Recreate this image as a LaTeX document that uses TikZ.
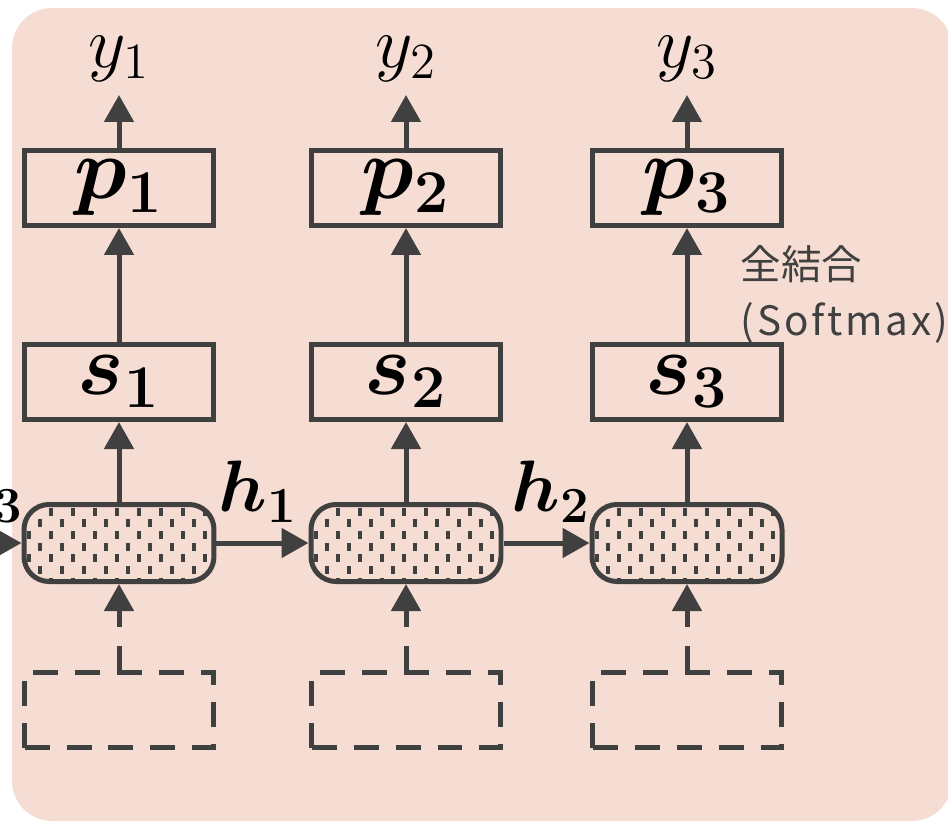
\documentclass[tikz,border=0pt]{standalone}
\usepackage{bm}
\usepackage{fontspec}
\newfontfamily\jpfont{Noto Sans CJK JP}
\usetikzlibrary{arrows.meta}
\definecolor{bgpeach}{RGB}{246,221,211}
\definecolor{ink}{RGB}{64,64,64}
\begin{document}
\begin{tikzpicture}[x=0.1mm, y=-0.1mm,
  box/.style={draw=ink, line width=0.5mm, minimum width=1.89cm, minimum height=0.75cm,
    inner sep=0pt, font=\fontsize{24}{28}\selectfont},
  cell/.style={box, rounded corners=0.25cm, minimum width=1.9cm, minimum height=0.77cm,
    path picture={
      \foreach \r [evaluate=\r as \dx using {mod(\r,2)*11}] in {0,...,7}
        \foreach \c in {0,...,8}
          \draw[ink, line width=1pt]
            ([shift={(5+\dx+22*\c, 3+11.7*\r)}]path picture bounding box.north west) -- ++(0,8);
    }},
  inbox/.style={box, dash pattern=on 0.25cm off 0.17cm},
  lbl/.style={inner sep=0.13cm, font=\fontsize{20}{24}\selectfont},
  hlbl/.style={font=\fontsize{20}{24}\selectfont},
  arr/.style={draw=ink, line width=0.5mm, -{Triangle[length=2.7mm, width=2.9mm]}}]
  \useasboundingbox (0,0) rectangle (948,822);
  \fill[bgpeach, rounded corners=0.4cm] (12,8) rectangle (952,821);
  \foreach \i/\x in {1/119, 2/406, 3/687} {
    \node[box] (p\i) at (\x,188) {$\bm{p}_{\bm{\i}}$};
    \node[box] (s\i) at (\x,382) {$\bm{s}_{\bm{\i}}$};
    \node[cell] (r\i) at (\x,543) {};
    \node[inbox] (x\i) at (\x,710) {};
    \node[lbl, anchor=south] (y\i) at (\x,95) {$y_{\i}$};
    \draw[arr] (p\i) -- (y\i);
    \draw[arr] (s\i) -- (p\i);
    \draw[arr] (r\i) -- (s\i);
    \draw[arr, dash pattern=on 0.24cm off 0.19cm] (x\i) -- (r\i);
  }
  \coordinate (h0) at (-40,543);
  \node[hlbl] (hin) at (-16,492) {$\bm{h}_{\bm{3}}$};
  \node[hlbl] (h1) at (258,492) {$\bm{h}_{\bm{1}}$};
  \node[hlbl] (h2) at (551,492) {$\bm{h}_{\bm{2}}$};
  \draw[arr] (h0) -- (r1);
  \draw[arr] (r1) -- (r2);
  \draw[arr] (r2) -- (r3);
  \node[anchor=north west, align=left, inner sep=0pt, text=ink,
    font=\jpfont\fontsize{11.5}{16}\selectfont] (fc) at (740,245)
    {全結合\\\addfontfeatures{LetterSpace=7}(Softmax)};
\end{tikzpicture}
\end{document}
